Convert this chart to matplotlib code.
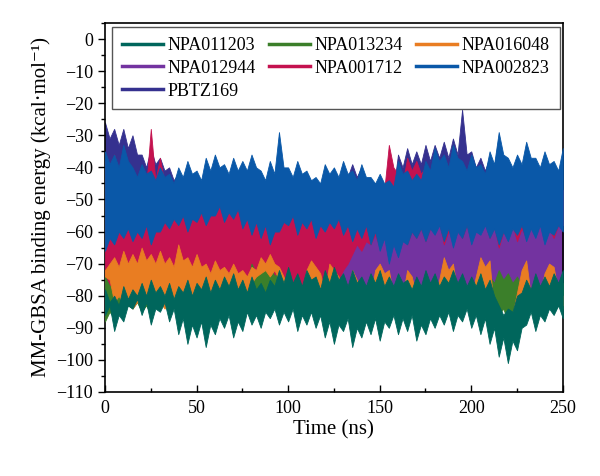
import numpy as np
import matplotlib
matplotlib.use("Agg")
import matplotlib.pyplot as plt
from matplotlib.ticker import MultipleLocator

plt.rcParams['font.family'] = ['Liberation Serif', 'DejaVu Serif']

# time axis (ns): one upper and one lower edge value every 2.5 ns
time_ns = np.arange(0, 251, 2.5)

names = ["NPA011203", "NPA013234", "NPA016048", "NPA012944",
         "NPA001712", "NPA002823", "PBTZ169"]
colors = ["#00665c", "#3b7f2a", "#e97d22", "#7333a0",
          "#c4124f", "#0a58a8", "#35318f"]

# each row = 25 ns (10 samples); last value = 250 ns
npa011203_hi = [-78, -82, -80, -83, -77, -81, -78, -80, -76, -80,
                -75, -79, -77, -80, -76, -81, -77, -79, -75, -80,
                -76, -78, -74, -79, -75, -78, -74, -77, -73, -78,
                -75, -79, -74, -78, -76, -79, -75, -77, -72, -76,
                -71, -76, -73, -77, -72, -75, -74, -78, -72, -76,
                -71, -75, -73, -77, -72, -76, -74, -77, -73, -76,
                -72, -77, -74, -77, -73, -76, -75, -78, -74, -77,
                -72, -76, -73, -77, -74, -76, -72, -76, -73, -77,
                -74, -77, -73, -78, -75, -80, -83, -86, -84, -85,
                -80, -79, -75, -78, -73, -77, -74, -77, -73, -76,
                -72]
npa011203_lo = [-86, -83, -91, -86, -88, -83, -84, -81, -86, -82,
                -89, -84, -85, -82, -88, -84, -92, -87, -95, -89,
                -93, -88, -96, -89, -92, -87, -90, -86, -93, -88,
                -91, -85, -89, -86, -90, -85, -87, -84, -89, -85,
                -88, -84, -91, -86, -89, -85, -90, -86, -93, -88,
                -95, -89, -91, -87, -96, -90, -93, -88, -92, -87,
                -94, -88, -90, -86, -92, -87, -91, -86, -94, -89,
                -92, -87, -90, -86, -89, -85, -91, -86, -88, -84,
                -90, -86, -92, -87, -95, -90, -99, -93, -101, -94,
                -97, -90, -89, -85, -91, -86, -88, -84, -86, -83,
                -87]

npa013234_hi = [-74, -77, -76, -79, -78, -81, -79, -81, -78, -80,
                -79, -81, -78, -80, -77, -79, -74, -78, -75, -79,
                -77, -80, -78, -80, -78, -80, -77, -79, -76, -78,
                -75, -77, -70, -73, -69, -72, -70, -74, -72, -75,
                -74, -77, -75, -78, -76, -78, -75, -78, -76, -78,
                -77, -79, -76, -78, -75, -78, -76, -78, -75, -78,
                -76, -78, -77, -79, -76, -78, -77, -79, -78, -80,
                -77, -79, -76, -78, -77, -79, -76, -78, -75, -78,
                -76, -78, -75, -77, -74, -76, -72, -75, -73, -76,
                -74, -77, -76, -78, -77, -79, -76, -78, -77, -79,
                -76]
npa013234_lo = [-88, -85, -87, -84, -85, -83, -84, -82, -85, -83,
                -86, -83, -84, -82, -85, -83, -86, -83, -85, -83,
                -84, -82, -85, -83, -86, -83, -85, -83, -84, -82,
                -85, -83, -84, -82, -83, -81, -84, -82, -85, -83,
                -84, -82, -85, -83, -84, -82, -85, -83, -86, -83,
                -85, -83, -84, -82, -85, -83, -86, -83, -85, -83,
                -84, -82, -85, -83, -84, -82, -85, -83, -86, -83,
                -85, -83, -84, -82, -85, -83, -84, -82, -85, -83,
                -84, -82, -85, -83, -85, -83, -86, -84, -88, -85,
                -85, -83, -84, -82, -85, -83, -84, -82, -85, -83,
                -84]

npa016048_hi = [-72, -70, -68, -71, -66, -70, -67, -70, -65, -69,
                -67, -70, -66, -70, -68, -71, -64, -69, -68, -71,
                -67, -71, -70, -73, -69, -72, -71, -73, -70, -73,
                -72, -74, -71, -72, -68, -70, -67, -70, -71, -74,
                -79, -80, -79, -80, -72, -69, -71, -73, -79, -70,
                -72, -74, -80, -79, -72, -75, -80, -79, -80, -72,
                -70, -73, -72, -80, -79, -80, -72, -74, -80, -79,
                -80, -79, -80, -75, -68, -72, -70, -79, -80, -79,
                -80, -74, -68, -71, -69, -86, -87, -88, -87, -86,
                -79, -72, -69, -80, -79, -80, -73, -70, -71, -79,
                -80]
npa016048_lo = [-74, -75, -82, -80, -83, -81, -84, -82, -83, -82,
                -82, -83, -82, -84, -83, -82, -78, -80, -82, -83,
                -83, -82, -84, -83, -82, -83, -84, -82, -83, -82,
                -82, -80, -76, -74, -73, -72, -74, -72, -75, -76,
                -82, -83, -82, -84, -83, -82, -84, -83, -82, -83,
                -83, -82, -84, -83, -82, -83, -84, -82, -83, -82,
                -82, -83, -82, -84, -83, -82, -84, -83, -82, -83,
                -83, -82, -84, -83, -82, -83, -84, -82, -83, -82,
                -82, -83, -82, -84, -76, -89, -90, -90, -89, -88,
                -82, -82, -83, -82, -84, -83, -82, -83, -84, -82,
                -83]

npa012944_hi = [-50, -51, -50, -51, -50, -51, -50, -51, -50, -51,
                -50, -51, -50, -51, -50, -51, -50, -51, -50, -51,
                -50, -51, -50, -51, -50, -51, -50, -51, -50, -51,
                -50, -51, -50, -51, -50, -51, -50, -51, -50, -51,
                -50, -51, -50, -51, -50, -51, -50, -51, -50, -51,
                -50, -51, -50, -51, -50, -51, -50, -51, -50, -51,
                -50, -51, -50, -51, -50, -51, -50, -51, -50, -51,
                -50, -51, -50, -51, -50, -51, -50, -51, -50, -51,
                -50, -51, -50, -51, -50, -51, -50, -51, -50, -51,
                -50, -51, -50, -51, -50, -51, -50, -51, -50, -51,
                -50]
npa012944_lo = [-70, -70, -71, -70, -70, -71, -70, -70, -71, -70,
                -70, -71, -70, -70, -71, -70, -70, -71, -70, -70,
                -71, -70, -70, -71, -70, -70, -71, -70, -70, -71,
                -70, -70, -71, -70, -70, -71, -70, -70, -71, -70,
                -70, -71, -70, -72, -74, -73, -74, -75, -76, -77,
                -78, -79, -79, -80, -81, -80, -79, -80, -81, -80,
                -79, -80, -81, -80, -79, -80, -81, -80, -79, -80,
                -81, -80, -79, -80, -81, -80, -79, -80, -81, -80,
                -79, -80, -81, -80, -79, -80, -81, -80, -79, -80,
                -81, -80, -79, -80, -81, -80, -79, -80, -81, -80,
                -80]

npa001712_hi = [-38, -44, -36, -45, -47, -48, -46, -47, -44, -46,
                -28, -44, -37, -45, -46, -47, -46, -48, -45, -47,
                -47, -48, -46, -48, -48, -49, -45, -47, -47, -48,
                -46, -48, -48, -49, -47, -48, -46, -48, -48, -49,
                -45, -47, -47, -48, -46, -48, -48, -49, -47, -48,
                -46, -48, -48, -49, -47, -48, -46, -48, -47, -48,
                -45, -47, -33, -40, -42, -45, -37, -41, -38, -42,
                -40, -45, -47, -48, -48, -49, -46, -48, -47, -48,
                -48, -49, -47, -48, -46, -48, -48, -49, -47, -48,
                -46, -48, -48, -49, -47, -48, -46, -48, -48, -49,
                -47]
npa001712_lo = [-76, -77, -76, -77, -76, -77, -76, -77, -76, -77,
                -77, -76, -77, -76, -77, -76, -77, -76, -77, -76,
                -76, -77, -76, -77, -76, -77, -76, -77, -76, -77,
                -77, -76, -77, -76, -77, -76, -77, -76, -77, -76,
                -76, -77, -76, -77, -76, -77, -76, -77, -76, -77,
                -76, -75, -72, -70, -67, -64, -66, -63, -64, -61,
                -65, -61, -62, -59, -63, -60, -64, -60, -62, -59,
                -63, -59, -60, -57, -64, -60, -61, -58, -62, -58,
                -63, -59, -60, -57, -62, -58, -65, -60, -61, -58,
                -63, -59, -62, -58, -60, -57, -63, -59, -62, -58,
                -58]

npa002823_hi = [-35, -39, -36, -40, -33, -38, -40, -43, -39, -42,
                -41, -44, -40, -43, -42, -45, -40, -43, -38, -42,
                -41, -44, -37, -41, -36, -40, -39, -42, -37, -41,
                -38, -41, -36, -40, -41, -44, -38, -42, -29, -40,
                -40, -43, -38, -42, -41, -44, -43, -45, -39, -42,
                -40, -43, -38, -42, -41, -44, -39, -43, -43, -45,
                -42, -45, -44, -46, -38, -42, -41, -44, -42, -44,
                -38, -41, -34, -38, -36, -40, -33, -37, -38, -41,
                -36, -40, -39, -42, -35, -39, -29, -36, -37, -40,
                -36, -39, -32, -37, -37, -40, -35, -39, -38, -41,
                -34]
npa002823_lo = [-66, -62, -64, -60, -62, -59, -63, -60, -62, -58,
                -64, -60, -60, -57, -59, -56, -58, -55, -60, -56,
                -57, -54, -58, -55, -55, -52, -57, -54, -56, -53,
                -59, -56, -61, -57, -62, -58, -64, -60, -60, -57,
                -58, -55, -61, -57, -59, -56, -62, -58, -60, -57,
                -59, -56, -61, -58, -63, -59, -62, -58, -64, -60,
                -66, -62, -70, -64, -68, -63, -64, -60, -62, -59,
                -63, -59, -61, -58, -63, -59, -65, -60, -62, -58,
                -64, -60, -61, -58, -62, -59, -64, -60, -63, -59,
                -61, -58, -63, -59, -62, -58, -64, -60, -61, -58,
                -60]

pbtz169_hi = [-26, -31, -28, -33, -28, -34, -30, -36, -36, -40,
              -34, -39, -37, -41, -40, -44, -42, -45, -40, -44,
              -43, -46, -39, -43, -38, -42, -41, -44, -39, -43,
              -40, -43, -38, -42, -43, -46, -40, -43, -35, -41,
              -42, -45, -40, -43, -43, -46, -45, -47, -41, -44,
              -42, -45, -40, -43, -39, -43, -40, -44, -44, -46,
              -46, -48, -45, -47, -36, -40, -34, -39, -35, -39,
              -33, -38, -33, -37, -32, -37, -31, -36, -22, -36,
              -35, -40, -37, -41, -37, -40, -31, -38, -39, -42,
              -38, -41, -34, -39, -39, -42, -37, -41, -40, -43,
              -36]
pbtz169_lo = [-55, -57, -56, -55, -57, -56, -55, -57, -56, -55,
              -57, -56, -55, -57, -56, -55, -57, -56, -55, -57,
              -56, -55, -57, -56, -55, -57, -56, -55, -57, -56,
              -55, -57, -56, -55, -57, -56, -55, -57, -56, -55,
              -57, -56, -55, -57, -56, -55, -57, -56, -55, -57,
              -56, -55, -57, -56, -55, -57, -56, -55, -57, -56,
              -55, -57, -56, -55, -57, -56, -55, -57, -56, -55,
              -57, -56, -55, -57, -56, -55, -57, -56, -55, -57,
              -56, -55, -57, -56, -55, -57, -56, -55, -57, -56,
              -55, -57, -56, -55, -57, -56, -55, -57, -56, -55,
              -56]

his = [npa011203_hi, npa013234_hi, npa016048_hi, npa012944_hi,
       npa001712_hi, npa002823_hi, pbtz169_hi]
los = [npa011203_lo, npa013234_lo, npa016048_lo, npa012944_lo,
       npa001712_lo, npa002823_lo, pbtz169_lo]

# drawing order, bottom to top
zorders = [6, 4, 5, 2, 3, 7, 1]

fig = plt.figure(figsize=(6.0, 4.76), dpi=100)
ax = fig.add_axes([0.175, 0.1765, 0.763, 0.7752])

handles = {}
for name, c, hi, lo, z in zip(names, colors, his, los, zorders):
    ax.fill_between(time_ns, lo, hi, color=c, lw=0.6, zorder=z)
    handles[name], = ax.plot([], [], color=c, lw=2.5, label=name)

ax.set_xlim(0, 250)
ax.set_ylim(-110, 5)
ax.xaxis.set_major_locator(MultipleLocator(50))
ax.xaxis.set_minor_locator(MultipleLocator(25))
ax.yaxis.set_major_locator(MultipleLocator(10))
ax.yaxis.set_minor_locator(MultipleLocator(5))
ax.tick_params(axis='x', which='both', direction='in', labelsize=13, pad=6)
ax.tick_params(axis='y', which='both', direction='out', labelsize=13)
ax.tick_params(which='major', length=5, width=1)
ax.tick_params(which='minor', length=3, width=1)
for sp in ax.spines.values():
    sp.set_linewidth(1.2)

ax.set_xlabel('Time (ns)', fontsize=15, labelpad=2)
ax.set_ylabel('MM-GBSA binding energy (kcal·mol⁻¹)', fontsize=15, labelpad=4)

# matplotlib fills legend columns first, so reorder to get row order
order = ["NPA011203", "NPA012944", "PBTZ169", "NPA013234", "NPA001712",
         "NPA016048", "NPA002823"]
leg = ax.legend([handles[n] for n in order], order, ncol=3, fontsize=13,
                loc='upper left', bbox_to_anchor=(0.015, 0.989), borderaxespad=0,
                handlelength=2.3, handletextpad=0.25, columnspacing=0.7,
                labelspacing=0.32, borderpad=0.55, fancybox=False, framealpha=1)
leg.get_frame().set_edgecolor('#555555')
leg.get_frame().set_linewidth(1.0)
leg.set_zorder(10)

fig.savefig('out.png', dpi=100)
